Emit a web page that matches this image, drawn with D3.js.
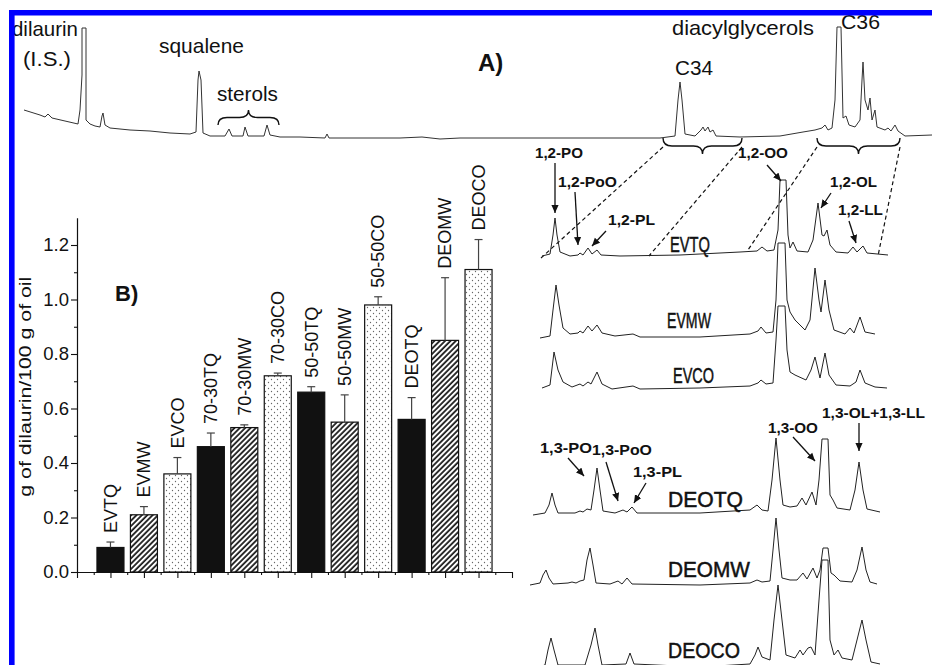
<!DOCTYPE html>
<html>
<head>
<meta charset="utf-8">
<script src="https://cdn.jsdelivr.net/npm/d3@7"></script>
<style>
  html, body { margin: 0; padding: 0; background: #fff; }
  svg { display: block; font-family: "Liberation Sans", Arial, sans-serif; }
</style>
</head>
<body>
<svg id="fig" width="932" height="665"></svg>
<script>
// ---- panel B: dilaurin content per oil (g / 100 g), upper end of error bar
const samples = ['EVTQ', 'EVMW', 'EVCO', '70-30TQ', '70-30MW', '70-30CO',
  '50-50TQ', '50-50MW', '50-50CO', 'DEOTQ', 'DEOMW', 'DEOCO'];
const means = [0.09, 0.21, 0.36, 0.46, 0.53, 0.72, 0.66, 0.55, 0.98, 0.56, 0.85, 1.11];
const errUpper = [0.11, 0.24, 0.42, 0.51, 0.54, 0.73, 0.68, 0.65, 1.01, 0.64, 1.08, 1.22];
const yTickValues = [0, 0.2, 0.4, 0.6, 0.8, 1.0, 1.2];
const yMinorValues = [0.1, 0.3, 0.5, 0.7, 0.9, 1.1];

// ---- panel A: full GC trace, [retention time (min), signal]
const traceFull = [
  [0.2, 30], [1.0, 25], [1.25, 23], [1.4, 26], [1.6, 22], [2.25, 19], [2.9, 16], [3.0, 30],
  [3.1, 65], [3.1, 112], [3.3, 112], [3.3, 20], [3.5, 16], [3.75, 14], [4.0, 13], [4.1, 24],
  [4.15, 27], [4.25, 15], [4.5, 12], [5.5, 10], [6.5, 9], [7.5, 7], [8.5, 6], [8.8, 8],
  [8.9, 60], [8.95, 69], [9.05, 60], [9.15, 7], [9.5, 4], [10.25, 4], [10.45, 11], [10.6, 4],
  [11.15, 4], [11.25, 13], [11.4, 4], [12.2, 4], [12.35, 15], [12.5, 5], [13.0, 3], [14.0, 3],
  [15.25, 2], [15.35, 6], [15.45, 2], [17.0, 2], [19.0, 2], [20.1, 3], [21.0, 1], [22.0, 2],
  [25.0, 2], [28.0, 2], [30.0, 2], [32.0, 2], [32.75, 4], [32.9, 40], [33.0, 58], [33.1, 40],
  [33.25, 6], [33.75, 4], [34.05, 10], [34.15, 13], [34.25, 9], [34.4, 13], [34.5, 8], [34.65, 10],
  [34.8, 4], [36.0, 3], [38.0, 4], [39.15, 8], [39.75, 10], [40.1, 12], [40.25, 15], [40.4, 10],
  [40.6, 12], [40.75, 40], [40.85, 113], [41.05, 113], [41.15, 22], [41.3, 24], [41.45, 15],
  [41.75, 13], [42.0, 20], [42.1, 60], [42.15, 78], [42.25, 40], [42.4, 30], [42.5, 42],
  [42.6, 20], [42.75, 30], [42.85, 13], [43.25, 10], [43.4, 12], [43.55, 9], [43.75, 15],
  [43.9, 9], [44.25, 4], [45.6, 5]
];

// ---- DAG region traces, [relative time, signal above own baseline]
const traceEVTQ = [
  [1.2, 0], [2.0, 2], [2.3, 21], [2.5, 38], [2.7, 21], [3.0, 4], [4.0, 0], [4.8, 1], [5.0, 3],
  [5.3, 1], [5.8, 8], [6.2, 2], [6.7, 6], [7.1, 1], [9.0, 0], [15.0, 1], [21.0, 4], [22.7, 5],
  [23.2, 9], [23.7, 5], [24.4, 6], [24.8, 26], [25.0, 76], [25.6, 76], [25.8, 21], [26.0, 8],
  [26.3, 14], [26.7, 5], [27.8, 4], [28.3, 16], [28.8, 53], [29.2, 21], [29.4, 20], [29.7, 26],
  [30.0, 11], [30.6, 4], [31.8, 3], [32.3, 9], [32.7, 4], [33.3, 10], [33.7, 3], [35.8, 1]
];
const traceEVMW = [
  [1.0, -1], [2.0, 1], [2.3, 27], [2.6, 52], [2.9, 32], [3.3, 9], [4.0, 3], [4.8, 4], [5.0, 6],
  [5.3, 4], [5.8, 11], [6.2, 6], [6.7, 12], [7.2, 4], [8.5, 1], [10.3, 3], [11.0, 0], [17.0, 0],
  [22.0, 3], [22.8, 6], [23.1, 10], [23.6, 4], [24.3, 5], [24.6, 37], [24.8, 94], [25.5, 94],
  [25.7, 37], [26.0, 25], [26.5, 17], [27.5, 7], [28.0, 17], [28.5, 69], [28.9, 37], [29.1, 25],
  [29.5, 57], [29.9, 27], [30.4, 7], [31.5, 3], [32.0, 9], [32.4, 4], [33.0, 20], [33.5, 5], [34.5, 3]
];
const traceEVCO = [
  [1.2, 0], [2.0, 3], [2.4, 36], [2.8, 18], [3.3, 6], [4.2, 1], [5.0, 4], [5.3, 2], [5.8, 6],
  [6.1, 4], [6.7, 16], [7.2, 4], [8.2, -1], [10.3, 2], [11.0, -1], [17.0, 0], [22.0, 2], [22.8, 5],
  [23.1, 8], [23.6, 4], [24.3, 5], [24.6, 48], [24.8, 82], [25.5, 82], [25.7, 38], [26.0, 16],
  [26.5, 13], [27.6, 8], [28.1, 18], [28.5, 31], [29.0, 10], [29.5, 35], [29.9, 13], [30.6, 3],
  [32.0, 2], [32.6, 6], [33.0, 18], [33.5, 5], [34.5, 1], [35.7, 0]
];
const traceDEOTQ = [
  [0.3, -1], [1.5, 1], [1.9, 9], [2.2, 21], [2.5, 9], [2.8, 1], [4.5, 1], [5.0, 3], [5.3, 2],
  [5.7, 5], [6.1, 4], [6.4, 24], [6.7, 46], [7.0, 24], [7.3, 3], [8.5, 1], [9.3, 4], [9.7, 2],
  [10.2, 7], [10.7, 1], [17.0, 1], [22.0, 4], [22.7, 9], [23.2, 4], [23.8, 3], [24.2, 34],
  [24.6, 76], [25.0, 34], [25.3, 9], [26.0, 7], [26.7, 8], [27.2, 16], [27.6, 9], [28.2, 22],
  [28.6, 9], [28.9, 34], [29.2, 75], [29.8, 75], [30.0, 19], [30.3, 14], [30.7, 6], [32.0, 4],
  [32.5, 24], [32.9, 52], [33.3, 24], [33.7, 5], [35.0, 2]
];
const traceDEOMW = [
  [0.0, 0], [1.0, 2], [1.3, 10], [1.6, 15], [1.9, 7], [2.3, 1], [3.8, 2], [4.2, 3], [4.6, 2],
  [5.0, 4], [5.4, 5], [5.7, 25], [6.0, 37], [6.3, 20], [6.6, 2], [8.0, 1], [8.8, 4], [9.2, 1],
  [9.7, 7], [10.2, 1], [17.0, 0], [22.0, 2], [22.7, 5], [23.2, 3], [24.0, 4], [24.3, 35],
  [24.6, 67], [24.9, 35], [25.2, 7], [26.0, 5], [26.7, 5], [27.3, 12], [27.7, 6], [28.3, 17],
  [28.7, 7], [29.0, 15], [29.3, 37], [29.8, 37], [30.1, 12], [30.4, 10], [31.0, 4], [32.2, 3],
  [32.7, 15], [33.2, 38], [33.6, 15], [34.0, 3], [34.7, 1]
];
const traceDEOCO = [
  [0.5, 0], [1.5, 3], [1.8, 18], [2.1, 30], [2.4, 18], [2.8, 3], [5.5, 3], [6.1, 23], [6.5, 40],
  [6.8, 23], [7.2, 3], [9.6, 4], [10.0, 15], [10.4, 4], [17.0, 1], [22.0, 4], [22.5, 13],
  [22.8, 21], [23.2, 11], [24.0, 8], [24.4, 48], [24.8, 83], [25.2, 48], [25.6, 13], [26.5, 10],
  [27.0, 18], [27.3, 13], [27.8, 20], [28.1, 21], [28.5, 13], [28.9, 68], [29.2, 108], [29.8, 108],
  [30.0, 28], [30.4, 13], [30.8, 18], [31.2, 10], [32.2, 8], [32.7, 28], [33.2, 48], [33.6, 28],
  [34.1, 6], [35.0, 4]
];
const traceNames = ['EVTQ', 'EVMW', 'EVCO', 'DEOTQ', 'DEOMW', 'DEOCO'];
const traces = [traceEVTQ, traceEVMW, traceEVCO, traceDEOTQ, traceDEOMW, traceDEOCO];

// ---- layout (pixels)
const traceBase = [256, 337, 388, 514, 585, 668];
const traceLabels = [
  { x: 670, y: 252, w: 40 }, { x: 667, y: 328, w: 44 }, { x: 673, y: 383, w: 41 },
  { x: 668, y: 507, w: 75 }, { x: 668, y: 577, w: 82 }, { x: 668, y: 658, w: 72 }
];
const topLabels = [
  { t: 'dilaurin', x: 12, y: 36, w: 66 },
  { t: '(I.S.)', x: 23, y: 66, w: 48 },
  { t: 'squalene', x: 159, y: 53, w: 85 },
  { t: 'sterols', x: 217, y: 101, w: 61 },
  { t: 'diacylglycerols', x: 672, y: 35, w: 142 },
  { t: 'C34', x: 675, y: 75, w: 38 },
  { t: 'C36', x: 841, y: 29, w: 39 }
];
const peakLabels = [
  { t: '1,2-PO', x: 535, y: 158, w: 48, a: [555, 163, 555, 213] },
  { t: '1,2-PoO', x: 558, y: 187, w: 59, a: [575, 192, 578, 245] },
  { t: '1,2-PL', x: 608, y: 225, w: 47, a: [606, 231, 592, 246] },
  { t: '1,2-OO', x: 738, y: 158, w: 50, a: [767, 165, 781, 181] },
  { t: '1,2-OL', x: 830, y: 187, w: 47, a: [831, 193, 821, 208] },
  { t: '1,2-LL', x: 838, y: 215, w: 45, a: [849, 221, 856, 243] },
  { t: '1,3-PO', x: 540, y: 453, w: 52, a: [568, 458, 584, 476] },
  { t: '1,3-PoO', x: 592, y: 455, w: 60, a: [606, 462, 618, 501] },
  { t: '1,3-PL', x: 633, y: 477, w: 49, a: [646, 483, 634, 503] },
  { t: '1,3-OO', x: 768, y: 433, w: 50, a: [793, 437, 815, 461] },
  { t: '1,3-OL+1,3-LL', x: 822, y: 418, w: 103, a: [859, 423, 859, 451] }
];
// braces: x0, x1, y at ends, depth (negative = tip up)
const braces = [[218, 279, 125, -15], [663, 742, 138, 16], [817, 900, 138, 16]];
const zoomLines = [[663, 147, 541, 258], [742, 147, 649, 256], [817, 147, 748, 250], [900, 147, 878, 256]];

const svg = d3.select('#fig');
const defs = svg.append('defs');

// squeeze or stretch a text horizontally so it spans d.w pixels from (d.x, d.y)
function fitText(sel) {
  sel.each(function (d) {
    const sx = d.w / this.getComputedTextLength();
    d3.select(this).attr('transform', `translate(${d.x},${d.y}) scale(${sx},1)`);
  });
}

defs.append('marker').attr('id', 'arr')
  .attr('viewBox', '0 0 10 10').attr('refX', 10).attr('refY', 5)
  .attr('markerWidth', 8).attr('markerHeight', 8).attr('markerUnits', 'userSpaceOnUse')
  .attr('orient', 'auto')
  .append('path').attr('d', 'M0,0.5L10,5L0,9.5z').attr('fill', '#111');

const hatch = defs.append('pattern').attr('id', 'hatch')
  .attr('patternUnits', 'userSpaceOnUse').attr('width', 3.8).attr('height', 3.8)
  .attr('patternTransform', 'rotate(45)');
hatch.append('rect').attr('width', 3.8).attr('height', 3.8).attr('fill', '#fff');
hatch.append('line').attr('x1', 1).attr('y1', 0).attr('x2', 1).attr('y2', 3.8)
  .attr('stroke', '#111').attr('stroke-width', 1.7);

const dots = defs.append('pattern').attr('id', 'dots')
  .attr('patternUnits', 'userSpaceOnUse').attr('width', 6).attr('height', 6);
dots.append('rect').attr('width', 6).attr('height', 6).attr('fill', '#fff');
dots.append('circle').attr('cx', 1.5).attr('cy', 1.5).attr('r', 0.65).attr('fill', '#666');
dots.append('circle').attr('cx', 4.5).attr('cy', 4.5).attr('r', 0.65).attr('fill', '#666');

// ---------------- panel A
const xA = d3.scaleLinear().domain([0, 45.6]).range([20, 932]);
const yA = d3.scaleLinear().domain([0, 120]).range([140, 20]);
svg.append('path')
  .attr('d', d3.line().x(d => xA(d[0])).y(d => yA(d[1]))(traceFull))
  .attr('fill', 'none').attr('stroke', '#333').attr('stroke-width', 1);

svg.append('g').selectAll('text').data(topLabels).join('text')
  .attr('font-size', 20).attr('fill', '#111')
  .text(d => d.t)
  .call(fitText);
svg.append('text').attr('x', 478).attr('y', 71).attr('font-size', 24).attr('font-weight', 700)
  .attr('fill', '#111').text('A)');

function bracePath([x0, x1, y, h]) {
  const m = (x0 + x1) / 2, r = 9, ym = y + h / 2;
  return `M${x0},${y}Q${x0},${ym} ${x0 + r},${ym}L${m - r},${ym}Q${m},${ym} ${m},${y + h}` +
    `Q${m},${ym} ${m + r},${ym}L${x1 - r},${ym}Q${x1},${ym} ${x1},${y}`;
}
svg.append('g').selectAll('path').data(braces).join('path')
  .attr('d', bracePath).attr('fill', 'none').attr('stroke', '#111').attr('stroke-width', 1.4);

svg.append('g').selectAll('line').data(zoomLines).join('line')
  .attr('x1', d => d[0]).attr('y1', d => d[1]).attr('x2', d => d[2]).attr('y2', d => d[3])
  .attr('stroke', '#111').attr('stroke-width', 1.2).attr('stroke-dasharray', '4,3');

// ---------------- DAG traces
const xB = d3.scaleLinear().domain([0, 40]).range([530, 930]);
traces.forEach((pts, k) => {
  const yB = d3.scaleLinear().domain([0, 100]).range([traceBase[k], traceBase[k] - 100]);
  svg.append('path')
    .attr('d', d3.line().x(d => xB(d[0])).y(d => yB(d[1]))(pts))
    .attr('fill', 'none').attr('stroke', '#222').attr('stroke-width', 1);
});
svg.append('g').selectAll('text')
  .data(traceNames.map((t, i) => ({ t, ...traceLabels[i] })))
  .join('text')
  .attr('font-size', 22).attr('fill', '#111')
  .attr('stroke', '#111').attr('stroke-width', 0.5)
  .text(d => d.t)
  .call(fitText);

const pk = svg.append('g');
pk.selectAll('text').data(peakLabels).join('text')
  .attr('font-size', 14.5).attr('font-weight', 700).attr('fill', '#111')
  .text(d => d.t)
  .call(fitText);
pk.selectAll('line').data(peakLabels).join('line')
  .attr('x1', d => d.a[0]).attr('y1', d => d.a[1]).attr('x2', d => d.a[2]).attr('y2', d => d.a[3])
  .attr('stroke', '#111').attr('stroke-width', 1.3).attr('marker-end', 'url(#arr)');

// ---------------- panel B: bar chart
const x = d3.scaleLinear().domain([0, 13]).range([77, 512]);
const y = d3.scaleLinear().domain([0, 1.3]).range([572, 217.75]);
const barW = 27;
const fillOf = s => s.endsWith('TQ') ? '#111' : s.endsWith('MW') ? 'url(#hatch)' : 'url(#dots)';

const gB = svg.append('g');
gB.selectAll('rect.bar').data(samples).join('rect')
  .attr('class', 'bar')
  .attr('x', (s, i) => x(i + 1) - barW / 2).attr('width', barW)
  .attr('y', (s, i) => y(means[i])).attr('height', (s, i) => y(0) - y(means[i]))
  .attr('fill', fillOf).attr('stroke', '#111').attr('stroke-width', 1.2);

const eb = gB.selectAll('g.err').data(samples).join('g').attr('class', 'err')
  .attr('stroke', '#444').attr('stroke-width', 1.2);
eb.append('line')
  .attr('x1', (s, i) => x(i + 1)).attr('x2', (s, i) => x(i + 1))
  .attr('y1', (s, i) => y(means[i])).attr('y2', (s, i) => y(errUpper[i]));
eb.append('line')
  .attr('x1', (s, i) => x(i + 1) - 4).attr('x2', (s, i) => x(i + 1) + 4)
  .attr('y1', (s, i) => y(errUpper[i])).attr('y2', (s, i) => y(errUpper[i]));

gB.selectAll('text.blab').data(samples).join('text')
  .attr('class', 'blab')
  .attr('transform', (s, i) => `translate(${x(i + 1)},${y(errUpper[i]) - 9}) rotate(-90)`)
  .attr('dy', '0.35em').attr('font-size', 18).attr('fill', '#111')
  .text(s => s);

const styleAxis = g => {
  g.selectAll('path.domain').attr('stroke', '#111').attr('stroke-width', 1.2);
  g.selectAll('.tick line').attr('stroke', '#111').attr('stroke-width', 1.1);
  g.selectAll('.tick text').attr('font-size', 18.5).attr('fill', '#111')
    .attr('font-family', '"Liberation Sans", Arial, sans-serif');
};
gB.append('g').attr('transform', `translate(0,${y(0)})`)
  .call(d3.axisBottom(x).tickValues(d3.range(0, 14)).tickSize(6).tickSizeOuter(0).tickFormat(''))
  .call(styleAxis);
gB.append('g').attr('transform', `translate(0,${y(0)})`)
  .call(d3.axisBottom(x).tickValues(d3.range(0.5, 13, 1)).tickSize(3).tickFormat(''))
  .call(g => g.select('.domain').remove()).call(styleAxis);
gB.append('g').attr('transform', `translate(${x(0)},0)`)
  .call(d3.axisLeft(y).tickValues(yTickValues).tickSize(6).tickSizeOuter(0).tickPadding(2)
    .tickFormat(d3.format('.1f')))
  .call(styleAxis);
gB.append('g').attr('transform', `translate(${x(0)},0)`)
  .call(d3.axisLeft(y).tickValues(yMinorValues).tickSize(3).tickFormat(''))
  .call(g => g.select('.domain').remove()).call(styleAxis);

const yLab = gB.append('text')
  .attr('text-anchor', 'middle').attr('font-size', 17).attr('fill', '#111')
  .text('g of dilaurin/100 g of oil');
yLab.attr('transform',
  `translate(31,${y(0.68)}) rotate(-90) scale(${220 / yLab.node().getComputedTextLength()},1)`);
gB.append('text').attr('x', 115).attr('y', 301).attr('font-size', 22).attr('font-weight', 700)
  .attr('fill', '#111').text('B)');

// blue frame (top and left edges only)
svg.append('path').attr('d', 'M11.8,665V12.7H932')
  .attr('fill', 'none').attr('stroke', '#0000ff').attr('stroke-width', 5.6);
</script>
</body>
</html>
